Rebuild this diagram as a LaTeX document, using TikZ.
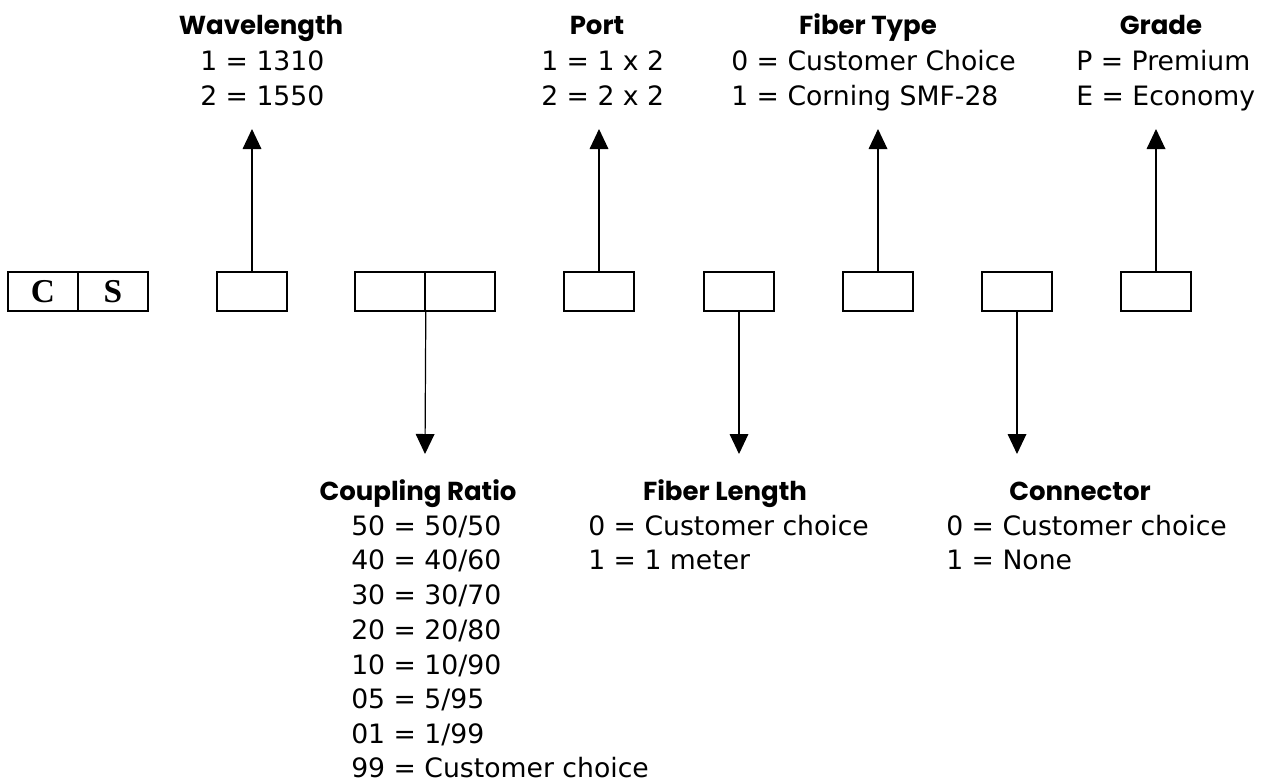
\documentclass[tikz,border=0pt]{standalone}
\usepackage{fontspec}
\setmainfont{Poppins}
\newfontfamily\codefont{Liberation Serif}
\newfontfamily\valuefont{DejaVu Sans}
\usetikzlibrary{arrows.meta}

\tikzset{
  codebox/.style={draw, line width=1.2pt, minimum width=52.5pt, minimum height=29.25pt, inner sep=0pt, font=\codefont\bfseries\fontsize{25}{25}\selectfont},
  pointer/.style={line width=0.9pt, -{Triangle[length=15pt,width=14pt]}},
  heading/.style={anchor=base, inner sep=0.75pt, font=\bfseries\fontsize{19.5}{22}\selectfont},
  choice/.style={anchor=base west, inner sep=0.75pt, font=\valuefont\fontsize{20}{22}\selectfont}
}

\begin{document}
\begin{tikzpicture}[x=0.75pt,y=0.75pt,yscale=-1,xscale=1]
\useasboundingbox (0,0) rectangle (1277,783);

% Code boxes
\node [codebox] (boxC) at (43,291.5) {C};
\node [codebox] (boxS) at (113,291.5) {S};
\node [codebox] (boxWave) at (252,291.5) {};
\node [codebox] (boxRatioA) at (390,291.5) {};
\node [codebox] (boxRatioB) at (460,291.5) {};
\node [codebox] (boxPort) at (599,291.5) {};
\node [codebox] (boxLength) at (739,291.5) {};
\node [codebox] (boxType) at (878,291.5) {};
\node [codebox] (boxConn) at (1017,291.5) {};
\node [codebox] (boxGrade) at (1156,291.5) {};

% Arrow ends
\coordinate (tipWave) at (252,129);
\coordinate (tipPort) at (599,129);
\coordinate (tipType) at (878,129);
\coordinate (tipGrade) at (1156,129);
\coordinate (tipRatio) at (425,454);
\coordinate (tipLength) at (739,454);
\coordinate (tipConn) at (1017,454);

%Straight Lines
\draw [pointer] (boxWave.north) -- (tipWave);
\draw [pointer] (boxPort.north) -- (tipPort);
\draw [pointer] (boxType.north) -- (tipType);
\draw [pointer] (boxGrade.north) -- (tipGrade);
\draw [pointer] (boxRatioA.south east) -- (tipRatio);
\draw [pointer] (boxLength.south) -- (tipLength);
\draw [pointer] (boxConn.south) -- (tipConn);

% Text Node
\draw (261,34) node (hWave) [heading] {Wavelength};
\draw (199,70) node (wave1) [choice] {1 = 1310};
\draw (199,105) node (wave2) [choice] {2 = 1550};
% Text Node
\draw (597,34) node (hPort) [heading] {Port};
\draw (540,70) node (port1) [choice] {1 = 1 x 2};
\draw (540,105) node (port2) [choice] {2 = 2 x 2};
% Text Node
\draw (868,34) node (hType) [heading] {Fiber Type};
\draw (730,70) node (type1) [choice] {0 = Customer Choice};
\draw (730,105) node (type2) [choice] {1 = Corning SMF-28};
% Text Node
\draw (1161,34) node (hGrade) [heading] {Grade};
\draw (1075,70) node (grade1) [choice] {P = Premium};
\draw (1075,105) node (grade2) [choice] {E = Economy};

% Text Node
\draw (418,500) node (hRatio) [heading] {Coupling Ratio};
\draw (350,535) node (ratio1) [choice] {50 = 50/50};
\draw (350,569.5) node (ratio2) [choice] {40 = 40/60};
\draw (350,604) node (ratio3) [choice] {30 = 30/70};
\draw (350,639) node (ratio4) [choice] {20 = 20/80};
\draw (350,674) node (ratio5) [choice] {10 = 10/90};
\draw (350,708) node (ratio6) [choice] {05 = 5/95};
\draw (350,743) node (ratio7) [choice] {01 = 1/99};
\draw (350,777) node (ratio8) [choice] {99 = Customer choice};
% Text Node
\draw (725,500) node (hLength) [heading] {Fiber Length};
\draw (587,535) node (length1) [choice] {0 = Customer choice};
\draw (587,569.5) node (length2) [choice] {1 = 1 meter};
% Text Node
\draw (1080,500) node (hConn) [heading] {Connector};
\draw (945,535) node (conn1) [choice] {0 = Customer choice};
\draw (945,569.5) node (conn2) [choice] {1 = None};

\end{tikzpicture}
\end{document}
